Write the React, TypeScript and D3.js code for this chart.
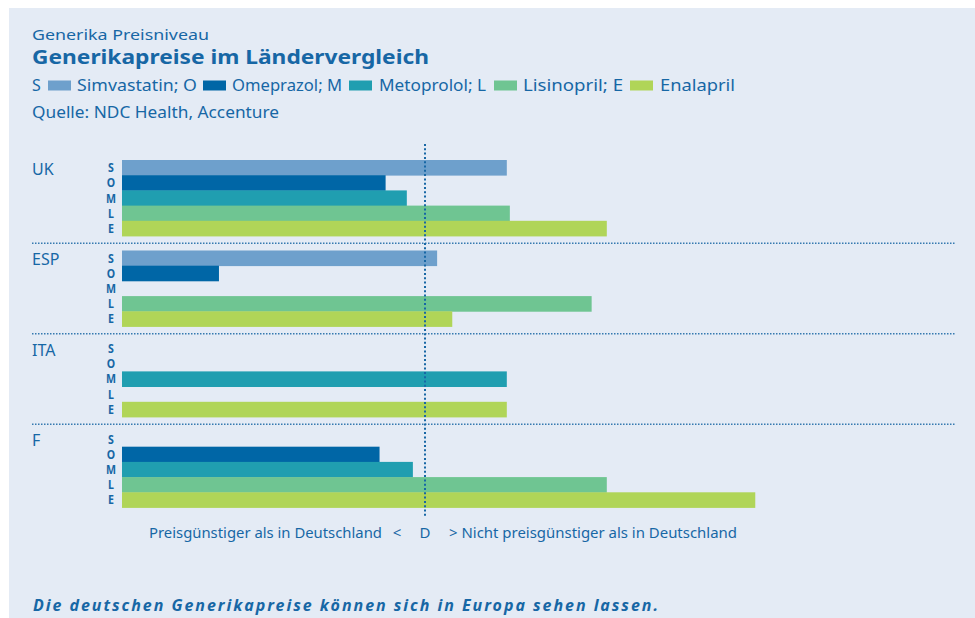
import React from 'react';
import * as d3 from 'd3';

// data (index: Germany = 100)
const countries = ['UK', 'ESP', 'ITA', 'F'];
const drugCodes = ['S', 'O', 'M', 'L', 'E'];
const drugNames = ['Simvastatin', 'Omeprazol', 'Metoprolol', 'Lisinopril', 'Enalapril'];
const simvastatin = [127, 104, null, null];
const omeprazol = [87, 32, null, 85];
const metoprolol = [94, null, 127, 96];
const lisinopril = [128, 155, null, 160];
const enalapril = [160, 109, 127, 209];
const seriesValues = [simvastatin, omeprazol, metoprolol, lisinopril, enalapril];
const referenceValue = 100;

const colors = ['#6ea0cc', '#0066a6', '#209eb0', '#6fc592', '#b0d558'];
const textColor = '#1767a5';
const font = '"Noto Sans", "DejaVu Sans", sans-serif';

// legend text widths (px) so the row lines up like the original
const legendLayout = [
  { codeX: 32, swatchX: 48, textX: 77, textW: 120 },
  { codeX: 0, swatchX: 203, textX: 232, textW: 110 },
  { codeX: 0, swatchX: 349, textX: 379, textW: 107 },
  { codeX: 0, swatchX: 494, textX: 523, textW: 100 },
  { codeX: 0, swatchX: 630, textX: 660, textW: 75 },
];

const App = () => {
  const x = d3.scaleLinear().domain([0, referenceValue]).range([122, 425]);

  const yCountry = d3.scaleBand<string>()
    .domain(countries)
    .range([160, 507.5])
    .paddingInner(0.16)
    .paddingOuter(0);

  const yDrug = d3.scaleBand<string>()
    .domain(drugCodes)
    .range([0, yCountry.bandwidth()])
    .padding(0);

  const gap = yCountry.step() - yCountry.bandwidth();
  const xD = x(referenceValue);

  return (
    <>
      <style>{`body{margin:0}`}</style>
      <svg width={975} height={618} style={{ display: 'block' }} fontFamily={font}>
        <rect x={9} y={8} width={966} height={610} fill="#e4ebf5" />

        {/* header */}
        <text x={32} y={40} fontSize={15} fill={textColor} textLength={177} lengthAdjust="spacingAndGlyphs">
          Generika Preisniveau
        </text>
        <text x={32} y={64} fontSize={20} fontWeight="bold" fill={textColor} textLength={397} lengthAdjust="spacingAndGlyphs">
          Generikapreise im Ländervergleich
        </text>
        {legendLayout.map((l, i) => (
          <g key={i}>
            {i === 0 && (
              <text x={l.codeX} y={91} fontSize={16} fill={textColor}>{drugCodes[i]}</text>
            )}
            <rect x={l.swatchX} y={80.5} width={23} height={10} fill={colors[i]} />
            <text x={l.textX} y={91} fontSize={16} fill={textColor} textLength={l.textW} lengthAdjust="spacingAndGlyphs">
              {drugNames[i] + (i < drugCodes.length - 1 ? '; ' + drugCodes[i + 1] : '')}
            </text>
          </g>
        ))}
        <text x={32} y={118} fontSize={16} fill={textColor} textLength={247} lengthAdjust="spacingAndGlyphs">
          Quelle: NDC Health, Accenture
        </text>

        {/* group separators */}
        {countries.slice(1).map(c => (
          <line key={c}
            x1={32} x2={955}
            y1={(yCountry(c) as number) - gap / 2}
            y2={(yCountry(c) as number) - gap / 2}
            stroke={textColor} strokeWidth={1.6} strokeDasharray="1.5,1.5" opacity={0.85} />
        ))}

        {countries.map((c, ci) => {
          const y0 = yCountry(c) as number;
          return (
            <g key={c}>
              <text x={32} y={y0 + 15} fontSize={16} fill={textColor}>{c}</text>
              {drugCodes.map(d => {
                const yy = y0 + (yDrug(d) as number) + yDrug.bandwidth() / 2;
                return (
                  <text key={d} transform={`translate(111,${yy + 4.5}) scale(0.85,1)`}
                    textAnchor="middle" fontSize={12.5} fontWeight="bold" fill={textColor}>{d}</text>
                );
              })}
              {seriesValues.map((vals, si) => {
                const v = vals[ci];
                if (v == null) return null;
                return (
                  <rect key={si}
                    x={x(0)}
                    y={y0 + (yDrug(drugCodes[si]) as number)}
                    width={x(v) - x(0)}
                    height={yDrug.bandwidth() + 0.4}
                    fill={colors[si]} />
                );
              })}
            </g>
          );
        })}

        {/* Germany reference line */}
        <line x1={xD} x2={xD} y1={144} y2={518}
          stroke={textColor} strokeWidth={2} strokeDasharray="2,2.3" />

        {/* bottom axis labels */}
        <text x={149} y={538} fontSize={15} fill={textColor}
          textLength={233} lengthAdjust="spacingAndGlyphs">
          Preisgünstiger als in Deutschland
        </text>
        <text x={397} y={538} fontSize={15} fill={textColor} textAnchor="middle">&lt;</text>
        <text x={xD} y={538} fontSize={15} fill={textColor} textAnchor="middle">D</text>
        <text x={xD + 24} y={538} fontSize={15} fill={textColor}
          textLength={288} lengthAdjust="spacingAndGlyphs">
          &gt; Nicht preisgünstiger als in Deutschland
        </text>

        <text x={33} y={611} fontSize={16} fontWeight="bold" fontStyle="italic" fill={textColor}
          textLength={625} lengthAdjust="spacing">
          Die deutschen Generikapreise können sich in Europa sehen lassen.
        </text>
      </svg>
    </>
  );
};

export default App;
